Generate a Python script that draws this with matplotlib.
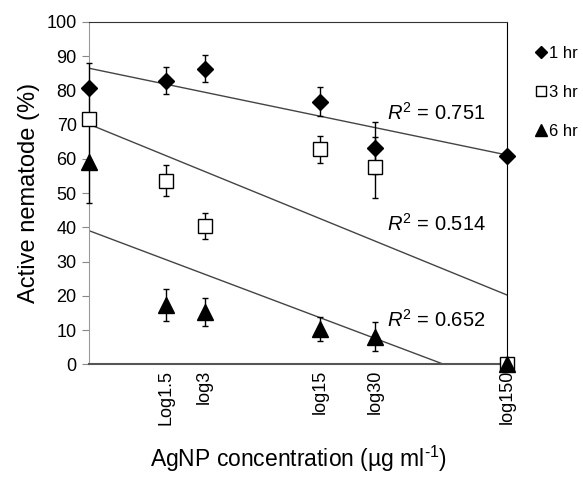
import numpy as np
import matplotlib
matplotlib.use('Agg')
import matplotlib.pyplot as plt

plt.rcParams['font.family'] = ['Liberation Sans', 'DejaVu Sans']
plt.rcParams['mathtext.fontset'] = 'custom'
plt.rcParams['mathtext.rm'] = 'Liberation Sans'
plt.rcParams['mathtext.it'] = 'Liberation Sans:italic'

###     Data

conc = [0, 1.5, 3, 15, 30, 150]
tick_labels = ['Log1.5', 'log3', 'log15', 'log30', 'log150']

y_1hr = [80.6, 82.9, 86.4, 76.7, 63.1, 60.8]
err_1hr = [7.5, 4.0, 4.0, 4.3, 7.6, 0]
y_3hr = [71.8, 53.6, 40.4, 62.8, 57.5, 0]
err_3hr = [1.0, 4.5, 3.8, 3.9, 9.0, 0]
y_6hr = [59.2, 17.3, 15.3, 10.2, 8.0, 0]
err_6hr = [12.0, 4.7, 4.0, 3.5, 4.2, 0]

r2_labels = ['0.751', '0.514', '0.652']
r2_pos = [(3.58, 73.5), (3.58, 41.0), (3.58, 13.0)]

x = np.log1p(np.array(conc, dtype=float))

fig = plt.figure(figsize=(5.83, 4.78), dpi=100)
ax = fig.add_axes([0.153, 0.238, 0.717, 0.716])

series = [
    (y_1hr, err_1hr, dict(marker='D', ms=8.5, mfc='black', mec='black'), '1 hr'),
    (y_3hr, err_3hr, dict(marker='s', ms=10, mfc='white', mec='black', mew=1), '3 hr'),
    (y_6hr, err_6hr, dict(marker='^', ms=11, mfc='black', mec='black'), '6 hr'),
]

for ys, es, style, lab in series:
    # trendline : least squares in ln(1 + c)
    slope, intercept = np.polyfit(x, ys, 1)
    xx = np.array([x[0], x[-1]])
    ax.plot(xx, slope * xx + intercept, color='#444444', lw=1, zorder=2)
    ax.errorbar(x, ys, yerr=es, fmt='none', ecolor='black', elinewidth=1,
                capsize=2.5, capthick=1, zorder=3, clip_on=False)
    ax.plot(x, ys, ls='none', label=lab, zorder=4, clip_on=False, **style)

for txt, (px, py) in zip(r2_labels, r2_pos):
    ax.text(px, py, '$R^2$ = ' + txt, fontsize=14.5, ha='left', va='center')

ax.set_xlim(0, x[-1])
ax.set_ylim(0, 100)
ax.set_yticks(range(0, 101, 10))
ax.set_xticks(x[1:])
ax.set_xticklabels(tick_labels, rotation=90, fontsize=13)
ax.tick_params(axis='x', length=0, pad=4)
ax.tick_params(axis='y', direction='out', length=5, labelsize=13, pad=4, color='#888888')

ax.spines['left'].set_color('#999999')
ax.spines['bottom'].set_color('#555555')
ax.spines['bottom'].set_linewidth(1.5)
ax.spines['top'].set_color('#333333')
ax.spines['right'].set_color('black')

ax.set_ylabel('Active nematode (%)', fontsize=17, labelpad=5)
ax.set_xlabel('AgNP concentration (\u00b5g ml$^{\\text{-1}}$)', fontsize=16.5, labelpad=14)

leg = ax.legend(loc='upper left', bbox_to_anchor=(1.052, 0.95), frameon=False,
                fontsize=12, handlelength=0.6, handletextpad=0.2,
                labelspacing=1.45, borderaxespad=0, markerscale=0.75)

fig.savefig('out.png', dpi=100)
